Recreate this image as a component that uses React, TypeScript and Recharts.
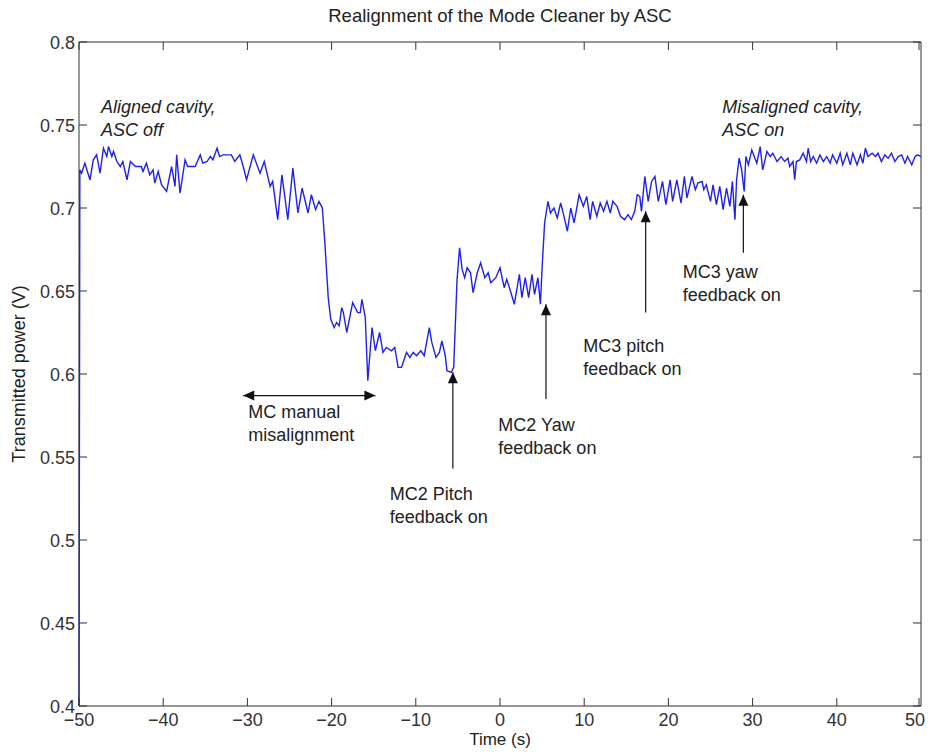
import React from "react";
import { LineChart, Line, XAxis, YAxis, ReferenceLine, ReferenceDot } from "recharts";

// time axis of the recorded trace (s)
const timeS = [
  -50, -49.9, -49.7, -49.3, -48.7, -48.3, -47.9, -47.5, -47.1, -46.7, -46.5, -46.1, -45.9, -45.5, -45.1, -44.8,
  -44.3, -43.9, -43.3, -42.6, -42.4, -42.0, -41.6, -41.2, -41.0, -40.6, -40.2, -39.6, -39.0, -38.6, -38.4, -38.0,
  -37.4, -37.1, -36.2, -35.6, -35.3, -34.8, -34.4, -34.1, -33.6, -33.3, -32.9, -31.9, -31.5, -30.9, -30.5, -30.1,
  -29.3, -28.5, -28.0, -27.3, -27.0, -26.4, -25.9, -25.2, -24.6, -24.0, -23.5, -22.8, -22.4, -21.9, -21.5, -21.1,
  -20.8, -20.4, -20.1, -19.7, -19.4, -19.1, -18.8, -18.6, -18.2, -17.5, -16.9, -16.6, -16.4, -16.0, -15.7, -15.2,
  -14.8, -14.3, -13.9, -13.5, -12.9, -12.5, -12.1, -11.7, -11.1, -10.7, -10.3, -9.9,
  -9.4, -9.0, -8.4, -8.1, -7.6, -7.2, -6.9, -6.5, -6.3, -5.8, -5.5, -5.1, -4.8, -4.5, -4.2, -3.9, -3.5, -3.2,
  -2.7, -2.3, -1.8, -1.4, -1.1, -0.5, 0.0, 0.5, 0.8, 1.3, 1.7, 2.3, 2.6, 3.0, 3.4, 3.8, 4.1, 4.5, 4.8, 5.0,
  5.3, 5.7, 6.0, 6.4, 6.8, 7.2, 7.6, 8.0, 8.4, 8.8, 9.4, 9.9,
  10.3, 10.7, 11.0, 11.5, 11.9, 12.3, 12.7, 13.1, 13.4, 13.9, 14.3, 14.8, 15.2, 15.6, 16.0, 16.3, 16.6, 16.8,
  17.2, 17.6, 18.0, 18.4, 18.8, 19.3, 19.7, 20.2, 20.5, 21.0, 21.5, 21.9, 22.2, 22.8, 23.2, 23.5, 24.0, 24.2,
  24.5, 25.0, 25.3, 25.7, 26.1, 26.5, 26.9, 27.3, 27.6, 27.9, 28.1, 28.4, 28.7, 29.0, 29.2, 29.5, 29.9,
  30.5, 30.9, 31.2, 31.7, 32.1, 32.4, 32.9, 33.4, 33.8, 34.2, 34.4, 34.8, 35.0, 35.2, 35.6, 36.0, 36.4, 36.6,
  36.9, 37.2, 37.6, 38.0, 38.4, 38.8, 39.2, 39.5, 40.0, 40.4, 40.7, 41.2, 41.6, 41.9, 42.4, 42.8, 43.1, 43.4,
  43.7, 44.2, 44.6, 44.9, 45.3, 45.7, 46.1, 46.5, 46.9, 47.3, 47.7, 48.1, 48.4, 48.9, 49.3, 49.6, 50.0,
];

// transmitted power (V)
const powerV = [
  0.4, 0.723, 0.721, 0.727, 0.717, 0.729, 0.732, 0.721, 0.736, 0.731, 0.737, 0.731, 0.734, 0.728, 0.725, 0.728,
  0.717, 0.728, 0.725, 0.725, 0.722, 0.727, 0.72, 0.723, 0.715, 0.722, 0.714, 0.71, 0.725, 0.713, 0.732, 0.709,
  0.729, 0.725, 0.725, 0.732, 0.727, 0.728, 0.731, 0.729, 0.736, 0.731, 0.732, 0.732, 0.728, 0.732, 0.725, 0.717,
  0.732, 0.721, 0.728, 0.713, 0.716, 0.693, 0.72, 0.693, 0.724, 0.697, 0.712, 0.697, 0.708, 0.699, 0.704, 0.7,
  0.679, 0.646, 0.633, 0.628, 0.631, 0.629, 0.64, 0.637, 0.625, 0.643, 0.637, 0.637, 0.645, 0.634, 0.596, 0.628,
  0.614, 0.625, 0.613, 0.616, 0.614, 0.616, 0.604, 0.604, 0.613, 0.61, 0.613, 0.611,
  0.614, 0.611, 0.628, 0.619, 0.61, 0.613, 0.62, 0.611, 0.602, 0.601, 0.604, 0.657, 0.676, 0.663, 0.658, 0.664, 0.661, 0.649,
  0.661, 0.667, 0.658, 0.661, 0.655, 0.658, 0.664, 0.652, 0.657, 0.649, 0.642, 0.66, 0.646, 0.658, 0.646, 0.66, 0.648, 0.658, 0.642, 0.664,
  0.691, 0.704, 0.697, 0.7, 0.694, 0.703, 0.695, 0.686, 0.7, 0.691, 0.708, 0.701,
  0.707, 0.693, 0.704, 0.695, 0.703, 0.698, 0.704, 0.697, 0.704, 0.701, 0.695, 0.693, 0.696, 0.693, 0.698, 0.708, 0.707, 0.698,
  0.719, 0.704, 0.716, 0.719, 0.704, 0.716, 0.702, 0.717, 0.704, 0.717, 0.703, 0.719, 0.706, 0.719, 0.711, 0.715, 0.716, 0.711,
  0.714, 0.704, 0.714, 0.702, 0.713, 0.699, 0.712, 0.701, 0.716, 0.693, 0.717, 0.73, 0.723, 0.71, 0.731, 0.726, 0.735,
  0.727, 0.737, 0.723, 0.734, 0.731, 0.733, 0.728, 0.731, 0.728, 0.73, 0.725, 0.728, 0.717, 0.728, 0.729, 0.733, 0.728, 0.736,
  0.728, 0.731, 0.727, 0.732, 0.728, 0.731, 0.727, 0.732, 0.727, 0.733, 0.726, 0.733, 0.726, 0.733, 0.726, 0.732, 0.727, 0.736,
  0.731, 0.733, 0.731, 0.733, 0.728, 0.732, 0.73, 0.733, 0.728, 0.731, 0.732, 0.727, 0.731, 0.726, 0.731, 0.732, 0.731,
];

const xTicks = [-50, -40, -30, -20, -10, 0, 10, 20, 30, 40, 50];
const yTicks = [0.4, 0.45, 0.5, 0.55, 0.6, 0.65, 0.7, 0.75, 0.8];

// annotation text: left edge / first baseline in data units
const notes = [
  { t: -47.4, v: 0.7572, lines: ["Aligned cavity,", "ASC off"], italic: true },
  { t: 26.4, v: 0.7572, lines: ["Misaligned cavity,", "ASC on"], italic: true },
  { t: -29.9, v: 0.5735, lines: ["MC manual", "misalignment"], italic: false },
  { t: -13.1, v: 0.5241, lines: ["MC2 Pitch", "feedback on"], italic: false },
  { t: -0.2, v: 0.5657, lines: ["MC2 Yaw", "feedback on"], italic: false },
  { t: 9.9, v: 0.6133, lines: ["MC3 pitch", "feedback on"], italic: false },
  { t: 21.7, v: 0.6578, lines: ["MC3 yaw", "feedback on"], italic: false },
];

// vertical arrows: time, tail value, head value
const arrows = [
  { t: -5.6, from: 0.543, to: 0.601 },
  { t: 5.46, from: 0.585, to: 0.642 },
  { t: 17.3, from: 0.637, to: 0.698 },
  { t: 28.9, from: 0.673, to: 0.708 },
];
const manualSpan = { from: -30.5, to: -14.8, v: 0.587 };

const data = timeS.map((t, i) => ({ t, v: powerV[i] }));

const font = "'Liberation Sans', Arial, sans-serif";
const ink = "#333";
const W = 919;
const H = 740;
const plotTop = 34;
const plotRight = 913;
const tickLen = 8;

const head = (x: number, y: number, ang: number) => {
  const L = 11;
  const hw = 5;
  const bx = x - L * Math.cos(ang);
  const by = y - L * Math.sin(ang);
  const px = -Math.sin(ang) * hw;
  const py = Math.cos(ang) * hw;
  return `${x},${y} ${bx + px},${by + py} ${bx - px},${by - py}`;
};

const arrowShape = (both: boolean) => (p: any) => {
  const { x1, y1, x2, y2 } = p;
  const ang = Math.atan2(y2 - y1, x2 - x1);
  return (
    <g>
      <line x1={x1} y1={y1} x2={x2} y2={y2} stroke="#111" strokeWidth={1.2} />
      <polygon points={head(x2, y2, ang)} fill="#111" />
      {both && <polygon points={head(x1, y1, ang + Math.PI)} fill="#111" />}
    </g>
  );
};

const noteShape = (lines: string[], italic: boolean) => (p: any) => (
  <text x={p.cx} y={p.cy} fontSize={18} fill="#222" fontFamily={font} fontStyle={italic ? "italic" : "normal"}>
    {lines.map((s, i) => (
      <tspan key={i} x={p.cx} dy={i === 0 ? 0 : 23}>
        {s}
      </tspan>
    ))}
  </text>
);

const minus = (n: number) => String(n).replace("-", "\u2212");

// MATLAB style: ticks point into the box, on all four sides
const XTick = (p: any) => {
  const { x, y, payload } = p;
  // keep the last label inside the page
  const tx = Math.min(x, W - 12);
  return (
    <g>
      <line x1={x} x2={x} y1={y} y2={y - tickLen} stroke={ink} />
      <line x1={x} x2={x} y1={plotTop} y2={plotTop + tickLen} stroke={ink} />
      <text x={tx} y={y + 19.5} textAnchor="middle" fontSize={18} fontFamily={font} fill="#333">
        {minus(payload.value)}
      </text>
    </g>
  );
};

const YTick = (p: any) => {
  const { x, y, payload } = p;
  return (
    <g>
      <line x1={x} x2={x + tickLen} y1={y} y2={y} stroke={ink} />
      <line x1={plotRight - tickLen} x2={plotRight} y1={y} y2={y} stroke={ink} />
      <text x={x - 4} y={y + 6.5} textAnchor="end" fontSize={18} fontFamily={font} fill="#333">
        {payload.value}
      </text>
    </g>
  );
};

export default function App() {
  return (
    <div style={{ position: "relative", width: W, height: H, background: "#fff" }}>
      <div
        style={{
          position: "absolute",
          left: 71,
          width: 842,
          top: -3,
          textAlign: "center",
          fontFamily: font,
          fontSize: 18.5,
          lineHeight: "22px",
          color: "#222",
        }}
      >
        Realignment of the Mode Cleaner by ASC
      </div>
      <LineChart width={W} height={H} data={data} margin={{ top: plotTop, right: W - plotRight, bottom: 0, left: 0 }}>
        <XAxis
          xAxisId="b"
          dataKey="t"
          type="number"
          domain={[-50, 50]}
          ticks={xTicks}
          height={42}
          tickSize={0}
          tickMargin={0}
          tickLine={false}
          stroke={ink}
          tick={<XTick />}
          label={{ value: "Time (s)", position: "insideBottom", offset: 3.5, fill: "#222", fontSize: 17, fontFamily: font }}
        />
        <YAxis
          yAxisId="l"
          type="number"
          domain={[0.4, 0.8]}
          ticks={yTicks}
          width={71}
          tickSize={0}
          tickMargin={0}
          tickLine={false}
          stroke={ink}
          tick={<YTick />}
          label={{
            content: () => (
              <text
                x={17}
                y={366}
                transform="rotate(-90 17 366)"
                textAnchor="middle"
                fontSize={18}
                fontFamily={font}
                fill="#222"
              >
                Transmitted power (V)
              </text>
            ),
          }}
        />
        <ReferenceLine xAxisId="b" yAxisId="l" y={0.8} stroke={ink} />
        <ReferenceLine xAxisId="b" yAxisId="l" x={50} stroke={ink} />
        <Line
          xAxisId="b"
          yAxisId="l"
          type="linear"
          dataKey="v"
          stroke="#2020ee"
          strokeWidth={1.4}
          dot={false}
          isAnimationActive={false}
        />
        {arrows.map((a, i) => (
          <ReferenceLine
            key={"a" + i}
            xAxisId="b"
            yAxisId="l"
            segment={[
              { x: a.t, y: a.from },
              { x: a.t, y: a.to },
            ]}
            shape={arrowShape(false)}
          />
        ))}
        <ReferenceLine
          xAxisId="b"
          yAxisId="l"
          segment={[
            { x: manualSpan.from, y: manualSpan.v },
            { x: manualSpan.to, y: manualSpan.v },
          ]}
          shape={arrowShape(true)}
        />
        {notes.map((n, i) => (
          <ReferenceDot
            key={"n" + i}
            xAxisId="b"
            yAxisId="l"
            x={n.t}
            y={n.v}
            r={0}
            shape={noteShape(n.lines, n.italic)}
          />
        ))}
      </LineChart>
    </div>
  );
}
